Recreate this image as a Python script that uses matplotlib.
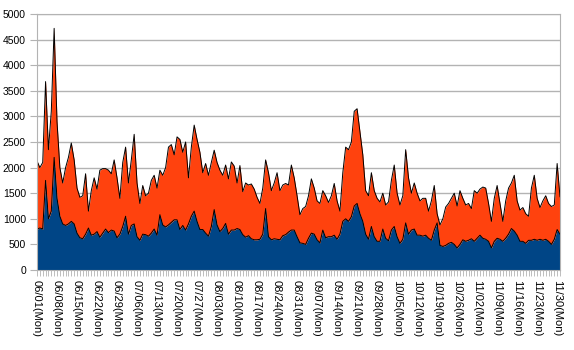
import numpy as np
import matplotlib
matplotlib.use("Agg")
import matplotlib.pyplot as plt

plt.rcParams['font.family'] = ['Liberation Sans', 'DejaVu Sans']

# weekly category labels (one tick every 7 days)
week_labels = ["06/01(Mon)", "06/08(Mon)", "06/15(Mon)", "06/22(Mon)", "06/29(Mon)",
               "07/06(Mon)", "07/13(Mon)", "07/20(Mon)", "07/27(Mon)", "08/03(Mon)",
               "08/10(Mon)", "08/17(Mon)", "08/24(Mon)", "08/31(Mon)", "09/07(Mon)",
               "09/14(Mon)", "09/21(Mon)", "09/28(Mon)", "10/05(Mon)", "10/12(Mon)",
               "10/19(Mon)", "10/26(Mon)", "11/02(Mon)", "11/09(Mon)", "11/16(Mon)",
               "11/23(Mon)", "11/30(Mon)"]

# daily values 06/01 .. 12/01 : top of the stack (both series together)
total = [2130, 2000, 2100, 3680, 2350, 3100, 4720, 2900, 2000, 1700,
         2000, 2200, 2480, 2150, 1600, 1420, 1450, 1880, 1150, 1550,
         1800, 1580, 1950, 1980, 1980, 1950, 1880, 2150, 1800, 1400,
         2100, 2400, 1700, 2150, 2650, 1700, 1300, 1650, 1450, 1500,
         1750, 1850, 1600, 1950, 1850, 2000, 2400, 2450, 2250, 2600,
         2550, 2300, 2500, 1800, 2400, 2830, 2550, 2300, 1900, 2080,
         1850, 2100, 2340, 2100, 1950, 1850, 2050, 1780, 2110, 2030,
         1700, 2040, 1530, 1700, 1660, 1680, 1580, 1420, 1300, 1600,
         2150, 1900, 1550, 1700, 1900, 1550, 1660, 1690, 1660, 2050,
         1800, 1450, 1080, 1200, 1240, 1450, 1780, 1600, 1350, 1300,
         1550, 1450, 1320, 1450, 1690, 1350, 1150, 1900, 2400, 2350,
         2500, 3100, 3150, 2700, 2250, 1550, 1450, 1900, 1550, 1400,
         1330, 1500, 1270, 1330, 1750, 2050, 1500, 1270, 1450, 2350,
         1800, 1500, 1700, 1500, 1350, 1400, 1400, 1150, 1350, 1650,
         1100, 880, 1000, 1230, 1300, 1400, 1500, 1250, 1550, 1400,
         1270, 1300, 1200, 1550, 1500, 1580, 1620, 1600, 1300, 950,
         1400, 1650, 1300, 950, 1350, 1600, 1700, 1850, 1350, 1170,
         1220, 1100, 1050, 1600, 1850, 1400, 1220, 1350, 1450, 1300,
         1240, 1270, 2080, 1430]

# lower (blue) series
lower = [800, 820, 800, 1750, 1000, 1150, 2200, 1400, 1050, 900,
         870, 900, 950, 900, 720, 630, 610, 700, 820, 680,
         700, 750, 640, 720, 800, 730, 780, 760, 630, 700,
         850, 1050, 700, 870, 900, 650, 580, 700, 690, 660,
         720, 800, 680, 1080, 880, 840, 880, 930, 980, 980,
         790, 870, 780, 900, 1050, 1150, 950, 790, 790, 720,
         660, 850, 1180, 880, 750, 810, 910, 700, 780, 780,
         810, 790, 690, 640, 670, 610, 590, 590, 600, 700,
         1200, 650, 590, 610, 600, 590, 670, 690, 740, 780,
         780, 650, 530, 520, 500, 620, 720, 700, 590, 530,
         780, 630, 650, 650, 680, 600, 700, 950, 1000, 950,
         1040, 1250, 1300, 1100, 950, 700, 600, 850, 650, 560,
         560, 800, 620, 570, 780, 850, 650, 520, 600, 920,
         700, 780, 800, 680, 680, 660, 680, 620, 580, 780,
         920, 480, 460, 480, 520, 540, 500, 430, 500, 590,
         560, 580, 610, 560, 620, 680, 620, 600, 560, 430,
         560, 620, 600, 560, 620, 700, 810, 760, 680, 560,
         560, 520, 580, 580, 600, 580, 600, 580, 600, 560,
         500, 600, 790, 700]

x = np.arange(len(total))

fig = plt.figure(figsize=(5.74, 3.5), dpi=100)
ax = fig.add_axes([37/574, 80/350, 523/574, 256/350])

ax.fill_between(x, 0, lower, color="#004586", lw=0)
ax.fill_between(x, lower, total, color="#ff420e", lw=0)
ax.plot(x, lower, color="black", lw=0.7)
ax.plot(x, total, color="black", lw=0.7)

ax.set_xlim(0, len(total) - 1)
ax.set_ylim(0, 5000)
ax.set_yticks(np.arange(0, 5001, 500))
ax.grid(axis="y", color="#b3b3b3", lw=1)
ax.set_axisbelow(True)

ax.set_xticks(np.arange(0, len(total), 7)[:len(week_labels)])
ax.set_xticklabels(week_labels, rotation=270, fontsize=8, ha="center", va="top")
ax.set_xticks(x, minor=True)
ax.tick_params(axis="x", which="both", length=4, width=0.6, color="#b3b3b3", pad=3)
ax.tick_params(axis="y", length=5, color="#b3b3b3", labelsize=7.5, pad=3)

for s in ax.spines.values():
    s.set_color("#b3b3b3")

fig.savefig("out.png", dpi=100)
